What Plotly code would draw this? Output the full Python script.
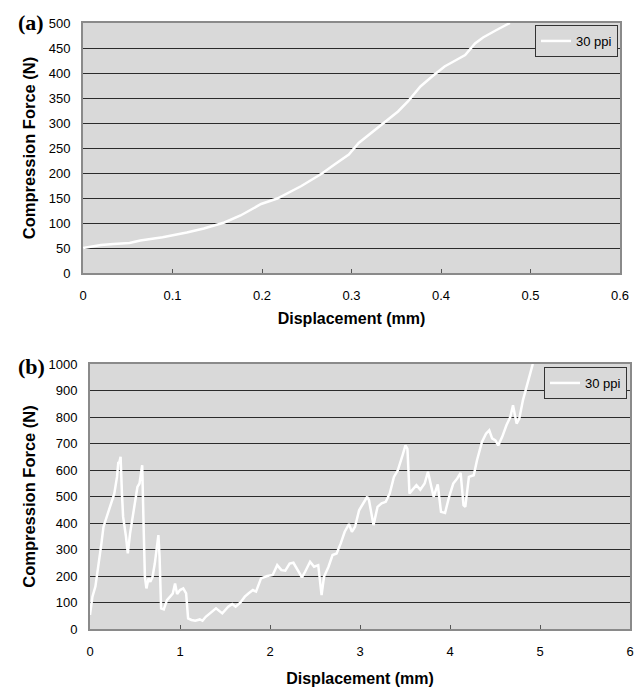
import plotly.graph_objects as go

# ---- data ----
disp_a = [0, 0.02, 0.034, 0.052, 0.064, 0.089, 0.116, 0.135, 0.158, 0.176, 0.199, 0.217,
          0.244, 0.267, 0.281, 0.297, 0.308, 0.336, 0.352, 0.363, 0.377, 0.390, 0.404,
          0.413, 0.427, 0.438, 0.447, 0.461, 0.477]
force_a = [50, 56, 58, 60, 65, 71.5, 81, 89, 101, 115, 138, 149, 174, 199, 217, 237, 260,
           300, 323, 343, 373, 393, 413, 422, 436, 459, 471, 485, 500]

disp_b = [0, 0.027, 0.06, 0.105, 0.127, 0.15, 0.18, 0.21, 0.24, 0.27, 0.30, 0.314, 0.327,
          0.34, 0.355, 0.368, 0.40, 0.42, 0.445, 0.49, 0.527, 0.55, 0.58, 0.595, 0.61,
          0.627, 0.65, 0.67, 0.695, 0.72, 0.74, 0.76, 0.773, 0.79, 0.82, 0.855, 0.89,
          0.92, 0.945, 0.968, 1.0, 1.036, 1.068, 1.09, 1.127, 1.17, 1.22, 1.25, 1.286,
          1.33, 1.40, 1.47, 1.536, 1.58, 1.618, 1.67, 1.72, 1.76, 1.81, 1.845, 1.9, 1.97,
          2.03, 2.08, 2.127, 2.17, 2.218, 2.26, 2.31, 2.355, 2.39, 2.445, 2.49, 2.536,
          2.573, 2.6, 2.65, 2.695, 2.74, 2.786, 2.83, 2.877, 2.91, 2.945, 2.99, 3.036,
          3.08, 3.10, 3.15, 3.195, 3.24, 3.286, 3.33, 3.377, 3.42, 3.468, 3.505, 3.527,
          3.55, 3.58, 3.627, 3.67, 3.718, 3.755, 3.786, 3.818, 3.864, 3.9, 3.945, 3.99,
          4.036, 4.08, 4.118, 4.15, 4.17, 4.21, 4.264, 4.3, 4.355, 4.4, 4.436, 4.468,
          4.505, 4.536, 4.58, 4.627, 4.67, 4.70, 4.74, 4.77, 4.81, 4.845, 4.877, 4.9, 4.92]
force_b = [53, 122, 160, 260, 323, 386, 417, 449, 480, 511, 574, 627, 631, 650, 511, 423,
           348, 285, 360, 461, 536, 549, 618, 398, 197, 153, 191, 178, 197, 247, 310, 354,
           273, 78, 74, 109, 122, 134, 172, 132, 147, 153, 134, 40, 34, 31, 36, 31, 46, 57,
           78, 59, 84, 94, 84, 99, 122, 134, 147, 141, 191, 200, 204, 241, 222, 220, 247,
           250, 222, 195, 216, 254, 235, 241, 128, 197, 235, 279, 285, 323, 367, 396, 367,
           386, 448, 474, 499, 486, 392, 461, 474, 480, 511, 574, 599, 650, 693, 680, 511,
           524, 543, 526, 549, 593, 549, 499, 546, 442, 438, 499, 549, 568, 589, 467, 461,
           574, 580, 637, 706, 737, 750, 719, 712, 693, 725, 769, 800, 844, 775, 794, 863,
           907, 951, 976, 1000]

series_name = "30 ppi"
x_title = "Displacement (mm)"
y_title = "Compression Force (N)"
panel_labels = ["(a)", "(b)"]

W, H = 640, 688
BG = "#d9d9d9"
GRID = "#2b2b2b"
FRAME = "#8a8a8a"
FONT = "Liberation Sans, Arial, sans-serif"

fig = go.Figure()
fig.add_trace(go.Scatter(x=disp_a, y=force_a, mode="lines", name=series_name,
                         line=dict(color="white", width=2.5), xaxis="x", yaxis="y",
                         legend="legend"))
fig.add_trace(go.Scatter(x=disp_b, y=force_b, mode="lines", name=series_name,
                         line=dict(color="white", width=2.5), xaxis="x2", yaxis="y2",
                         legend="legend2"))

def xax(domain, rng, dtick, anchor, standoff):
    return dict(domain=domain, range=rng, dtick=dtick, anchor=anchor,
                showgrid=False, zeroline=False, showline=True, linecolor=FRAME,
                linewidth=2, mirror=True, ticks="inside", ticklen=4, tickcolor="#555",
                tickfont=dict(family=FONT, size=13, color="black"),
                ticklabelstandoff=9, automargin=False,
                title=dict(text="<b>%s</b>" % x_title, standoff=standoff,
                           font=dict(family=FONT, size=16, color="black")))

def yax(domain, rng, dtick, anchor):
    return dict(domain=domain, range=rng, dtick=dtick, anchor=anchor,
                showgrid=True, gridcolor=GRID, gridwidth=1, zeroline=False,
                showline=True, linecolor=FRAME, linewidth=2, mirror=True,
                ticks="", tickfont=dict(family=FONT, size=13, color="black"),
                ticklabelstandoff=8, automargin=False,
                title=dict(text="<b>%s</b>" % y_title, standoff=9,
                           font=dict(family=FONT, size=16.5, color="black")))

fig.update_layout(
    width=W, height=H, margin=dict(l=0, r=0, t=0, b=0),
    paper_bgcolor="white", plot_bgcolor=BG,
    xaxis=xax([83 / W, 620 / W], [0, 0.6], 0.1, "y", 11),
    yaxis=yax([1 - 273 / H, 1 - 23 / H], [0, 500], 50, "x"),
    xaxis2=xax([90 / W, 630 / W], [0, 6], 1, "y2", 15),
    yaxis2=yax([1 - 629 / H, 1 - 364 / H], [0, 1000], 100, "x2"),
    legend=dict(x=618 / W, y=1 - 25 / H, xanchor="right", yanchor="top",
                bgcolor=BG, bordercolor="#333", borderwidth=1,
                font=dict(family=FONT, size=13, color="black"),
                itemwidth=30, tracegroupgap=0),
    legend2=dict(x=627 / W, y=1 - 367 / H, xanchor="right", yanchor="top",
                 bgcolor=BG, bordercolor="#333", borderwidth=1,
                 font=dict(family=FONT, size=13, color="black"),
                 itemwidth=30, tracegroupgap=0),
    showlegend=True,
)

for txt, yy in zip(panel_labels, [22, 367]):
    fig.add_annotation(text="<b>%s</b>" % txt, x=31 / W, y=1 - yy / H,
                       xref="paper", yref="paper", showarrow=False,
                       xanchor="center", yanchor="middle",
                       font=dict(family="Liberation Serif, Times New Roman, serif",
                                 size=22, color="black"))

fig.write_html("out.html")
